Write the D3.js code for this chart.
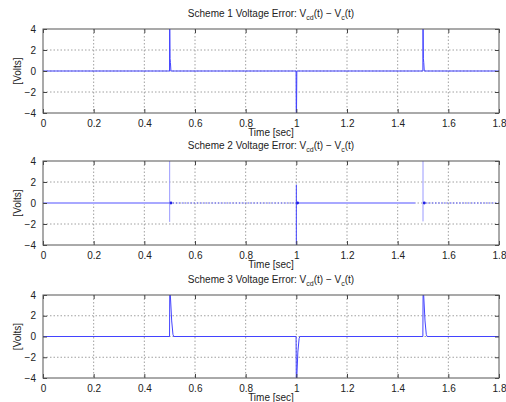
<!DOCTYPE html>
<html>
<head>
<meta charset="utf-8">
<script src="https://cdn.jsdelivr.net/npm/d3@7/dist/d3.min.js"></script>
<style>
  html, body { margin: 0; padding: 0; background: #fff; }
  svg { display: block; }
  text { font-family: "Liberation Sans", Arial, sans-serif; fill: #222; }
</style>
</head>
<body>
<svg id="chart" width="506" height="402"></svg>
<script>
// Axis ticks shared by all three panels
const timeTicks = [0, 0.2, 0.4, 0.6, 0.8, 1, 1.2, 1.4, 1.6, 1.8];
const voltTicks = [-4, -2, 0, 2, 4];
const schemeNames = ["Scheme 1", "Scheme 2", "Scheme 3"];

// Scheme 1: sharp spikes at the switching instants
const scheme1 = [
  [0, 0], [0.4995, 0], [0.5, 6], [0.5015, 1.2], [0.503, 0.8], [0.505, 0],
  [0.999, 0], [1.0, -6], [1.002, 0],
  [1.4995, 0], [1.5, 6], [1.5015, 1.2], [1.503, 0.8], [1.505, 0], [1.8, 0]
];

// Scheme 2: chattering error, drawn as a light band where it is dense
const scheme2Band = [
  [[0, 0], [0.5, 0]],
  [[1.0, 0], [1.47, 0]]
];
const scheme2Dotted = [
  [[0.5, 0], [1.0, 0]],
  [[1.5, 0], [1.8, 0]]
];
const scheme2Spikes = [
  [[0.5, 6], [0.5, -1.8]],
  [[1.0, 1.75], [1.0, -6]],
  [[1.5, 6], [1.5, -1.75]]
];
const scheme2Dots = [[0.505, 0], [1.005, 0], [1.505, 0]];

// Scheme 3: spikes that decay over a few milliseconds
const scheme3 = [
  [0, 0], [0.4995, 0], [0.5005, 5], [0.508, 1.5], [0.513, 0.2], [0.516, 0],
  [0.999, 0], [1.0, -5], [1.006, -1.5], [1.011, -0.2], [1.014, 0],
  [1.4995, 0], [1.5005, 5], [1.508, 1.5], [1.513, 0.2], [1.516, 0], [1.8, 0]
];

const svg = d3.select("#chart");
const left = 43, right = 499;
const panels = [
  { top: 29, bottom: 113 },
  { top: 161, bottom: 245 },
  { top: 295, bottom: 378 }
];

const x = d3.scaleLinear().domain([0, 1.8]).range([left, right]);
const lineColor = "#4343ff";

panels.forEach((p, i) => {
  const y = d3.scaleLinear().domain([-4, 4]).range([p.bottom, p.top]);
  const g = svg.append("g");
  const clipId = "clip" + i;
  svg.append("clipPath").attr("id", clipId)
    .append("rect").attr("x", left).attr("y", p.top)
    .attr("width", right - left).attr("height", p.bottom - p.top);

  // dotted grid
  const grid = g.append("g").attr("stroke", "#a0a0a0").attr("stroke-width", 1)
    .attr("stroke-dasharray", "1.5,2");
  timeTicks.slice(1, -1).forEach(t => {
    grid.append("line").attr("x1", x(t)).attr("x2", x(t))
      .attr("y1", p.top).attr("y2", p.bottom);
  });
  voltTicks.slice(1, -1).forEach(v => {
    grid.append("line").attr("x1", left).attr("x2", right)
      .attr("y1", y(v)).attr("y2", y(v));
  });

  const line = d3.line().x(d => x(d[0])).y(d => y(d[1]));
  const data = g.append("g").attr("clip-path", `url(#${clipId})`);

  if (i === 0 || i === 2) {
    data.append("path").datum(i === 0 ? scheme1 : scheme3)
      .attr("d", line).attr("fill", "none")
      .attr("stroke", lineColor).attr("stroke-width", 1);
  } else {
    scheme2Band.forEach(seg => {
      data.append("path").datum(seg).attr("d", line).attr("fill", "none")
        .attr("stroke", "#a8a8ff").attr("stroke-width", 2.2);
    });
    scheme2Dotted.forEach(seg => {
      data.append("path").datum(seg).attr("d", line).attr("fill", "none")
        .attr("stroke", "#5a5aff").attr("stroke-width", 1)
        .attr("stroke-dasharray", "1.5,1.5");
    });
    scheme2Spikes.forEach((seg, k) => {
      data.append("path").datum(seg).attr("d", line).attr("fill", "none")
        .attr("stroke", k === 1 ? lineColor : "#9a9aff").attr("stroke-width", 1);
    });
    data.selectAll("circle.dot").data(scheme2Dots).enter().append("circle")
      .attr("cx", d => x(d[0])).attr("cy", d => y(d[1])).attr("r", 1.4)
      .attr("fill", "#2020e8");
  }

  // axes with inward ticks on all four sides
  const tickLen = 4;
  const axisB = d3.axisBottom(x).tickValues(timeTicks).tickSizeInner(-tickLen)
    .tickSizeOuter(0).tickPadding(7).tickFormat(d3.format("~g"));
  const axisT = d3.axisTop(x).tickValues(timeTicks).tickSizeInner(-tickLen)
    .tickSizeOuter(0).tickFormat("");
  const axisL = d3.axisLeft(y).tickValues(voltTicks).tickSizeInner(-tickLen)
    .tickSizeOuter(0).tickPadding(7).tickFormat(d3.format("~g"));
  const axisR = d3.axisRight(y).tickValues(voltTicks).tickSizeInner(-tickLen)
    .tickSizeOuter(0).tickFormat("");

  const styleAxis = sel => {
    sel.select(".domain").remove();
    sel.selectAll("line").attr("stroke", "#444");
    sel.selectAll("text").style("font-family", "Liberation Sans, Arial, sans-serif")
      .style("font-size", "10px").attr("fill", "#222");
  };
  g.append("g").attr("transform", `translate(0,${p.bottom})`).call(axisB).call(styleAxis);
  g.append("g").attr("transform", `translate(0,${p.top})`).call(axisT).call(styleAxis);
  g.append("g").attr("transform", `translate(${left},0)`).call(axisL).call(styleAxis);
  g.append("g").attr("transform", `translate(${right},0)`).call(axisR).call(styleAxis);

  g.append("rect").attr("x", left).attr("y", p.top)
    .attr("width", right - left).attr("height", p.bottom - p.top)
    .attr("fill", "none").attr("stroke", "#555").attr("stroke-width", 1);

  // title with subscripts
  const title = g.append("text").attr("x", (left + right) / 2).attr("y", p.top - 12)
    .attr("text-anchor", "middle").style("font-size", "10px");
  title.append("tspan").text(schemeNames[i] + " Voltage Error: V");
  title.append("tspan").text("cd").attr("dy", 2.5).style("font-size", "7px");
  title.append("tspan").text("(t) \u2212 V").attr("dy", -2.5);
  title.append("tspan").text("c").attr("dy", 2.5).style("font-size", "7px");
  title.append("tspan").text("(t)").attr("dy", -2.5);

  // axis labels
  g.append("text").attr("x", (left + right) / 2).attr("y", p.bottom + 23)
    .attr("text-anchor", "middle").style("font-size", "10px").text("Time [sec]");
  g.append("text")
    .attr("transform", `translate(21,${(p.top + p.bottom) / 2}) rotate(-90)`)
    .attr("text-anchor", "middle").style("font-size", "10px").text("[Volts]");
});
</script>
</body>
</html>
